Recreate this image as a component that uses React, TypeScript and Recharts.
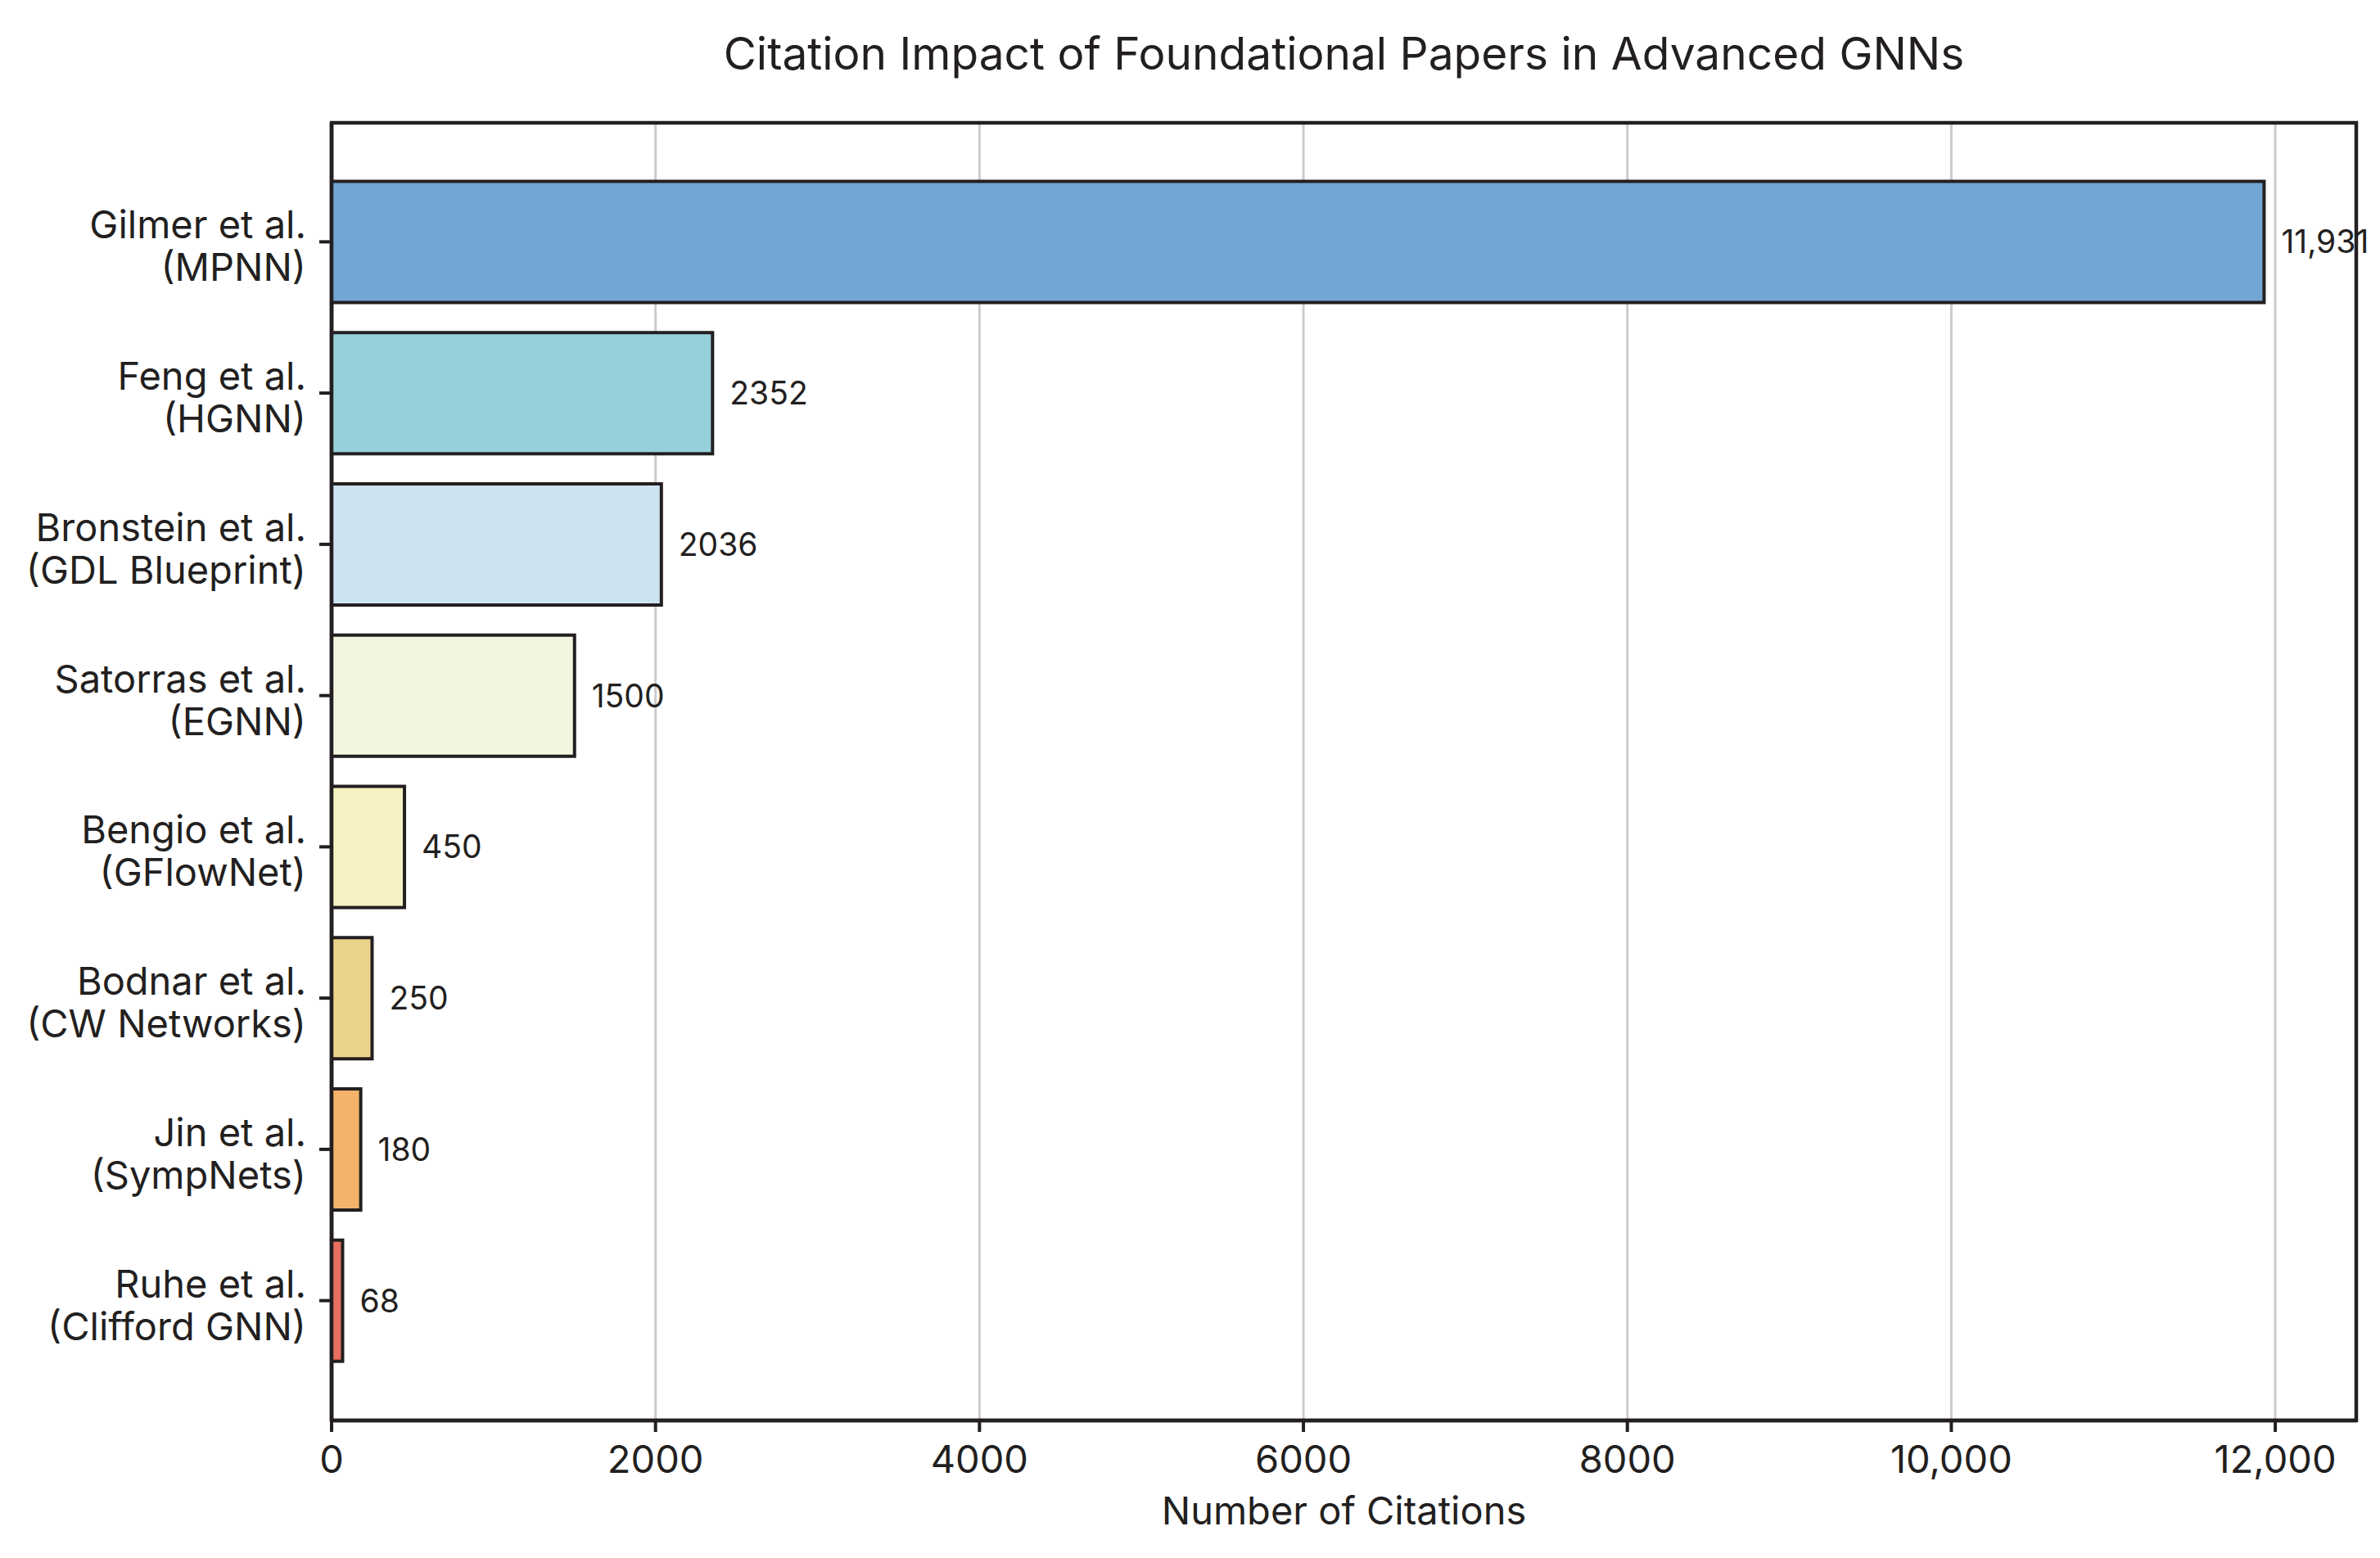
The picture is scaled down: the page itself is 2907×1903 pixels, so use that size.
import React from "react";
import * as Recharts from "recharts";
import {
  BarChart,
  Bar,
  XAxis,
  YAxis,
  CartesianGrid,
  Cell,
  LabelList,
  Label,
} from "recharts";

const authors = [
  "Gilmer et al.",
  "Feng et al.",
  "Bronstein et al.",
  "Satorras et al.",
  "Bengio et al.",
  "Bodnar et al.",
  "Jin et al.",
  "Ruhe et al.",
];
const methods = [
  "(MPNN)",
  "(HGNN)",
  "(GDL Blueprint)",
  "(EGNN)",
  "(GFlowNet)",
  "(CW Networks)",
  "(SympNets)",
  "(Clifford GNN)",
];
const citations = [11931, 2352, 2036, 1500, 450, 250, 180, 68];
const barColors = [
  "#72a6d5",
  "#96d0da",
  "#cde4f0",
  "#f2f5e0",
  "#f5f1c3",
  "#ecd38b",
  "#f4b26a",
  "#e8705f",
];
const xTicks = [0, 2000, 4000, 6000, 8000, 10000, 12000];
const xDomain = [0, 12500];

const TITLE = "Citation Impact of Foundational Papers in Advanced GNNs";
const X_LABEL = "Number of Citations";

const FONT = "Inter, 'Open Sans', sans-serif";
const INK = "#231f20";

const data = authors.map((a, i) => ({
  label: `${a}\n${methods[i]}`,
  value: citations[i],
}));

const fmt = (v: any) => {
  const n = Number(v);
  return n >= 10000 ? n.toLocaleString("en-US") : String(n);
};

const usePA: any =
  (Recharts as any).usePlotArea || (Recharts as any).useOffset || (() => null);

const YTick = (props: any) => {
  const { x, y, payload } = props;
  const lines = String(payload.value).split("\n");
  return (
    <text
      x={x}
      y={y}
      textAnchor="end"
      fill={INK}
      fontSize={47}
      fontFamily={FONT}
    >
      <tspan x={x} dy={-4}>
        {lines[0]}
      </tspan>
      <tspan x={x} dy={52}>
        {lines[1]}
      </tspan>
    </text>
  );
};

const XLabel = (props: any) => {
  const vb = props.viewBox || {};
  return (
    <text
      x={vb.x + vb.width / 2}
      y={vb.y + 127}
      textAnchor="middle"
      fill={INK}
      fontSize={47}
      fontFamily={FONT}
    >
      {X_LABEL}
    </text>
  );
};

const Frame = () => {
  const pa = usePA();
  if (!pa) return null;
  const x = pa.x ?? pa.left;
  const y = pa.y ?? pa.top;
  const w = pa.width;
  const h = pa.height;
  return (
    <g>
      <rect
        x={x}
        y={y}
        width={w}
        height={h}
        fill="none"
        stroke={INK}
        strokeWidth={4.5}
      />
      <text
        x={x + w / 2}
        y={y - 65}
        textAnchor="middle"
        fill={INK}
        fontSize={55}
        fontFamily={FONT}
      >
        {TITLE}
      </text>
    </g>
  );
};

export default function App() {
  return (
    <div style={{ position: "absolute", left: 0, top: 0, background: "#fff" }}>
      <BarChart
        width={2907}
        height={1903}
        data={data}
        layout="vertical"
        margin={{ top: 150, right: 29, bottom: 0, left: 0 }}
        barCategoryGap="10%"
      >
        <CartesianGrid
          horizontal={false}
          vertical={true}
          stroke="#cccccc"
          strokeWidth={3}
        />
        <XAxis
          type="number"
          domain={xDomain}
          ticks={xTicks}
          tickFormatter={fmt}
          allowDataOverflow
          height={168}
          axisLine={{ stroke: INK, strokeWidth: 4.5 }}
          tickLine={{ stroke: INK, strokeWidth: 4 }}
          tickSize={14}
          tickMargin={17}
          tick={{ fill: INK, fontSize: 47, fontFamily: FONT }}
        >
          <Label content={<XLabel />} />
        </XAxis>
        <YAxis
          type="category"
          dataKey="label"
          width={405}
          padding={{ top: 53, bottom: 54 }}
          axisLine={{ stroke: INK, strokeWidth: 4.5 }}
          tickLine={{ stroke: INK, strokeWidth: 4 }}
          tickSize={15}
          tickMargin={16}
          tick={<YTick />}
          interval={0}
        />
        <Bar
          dataKey="value"
          stroke={INK}
          strokeWidth={4}
          isAnimationActive={false}
        >
          {data.map((d, i) => (
            <Cell key={d.label} fill={barColors[i]} />
          ))}
          <LabelList
            dataKey="value"
            position="right"
            offset={21}
            formatter={fmt}
            fill={INK}
            fontSize={39}
            fontFamily={FONT}
          />
        </Bar>
        <Frame />
      </BarChart>
    </div>
  );
}
